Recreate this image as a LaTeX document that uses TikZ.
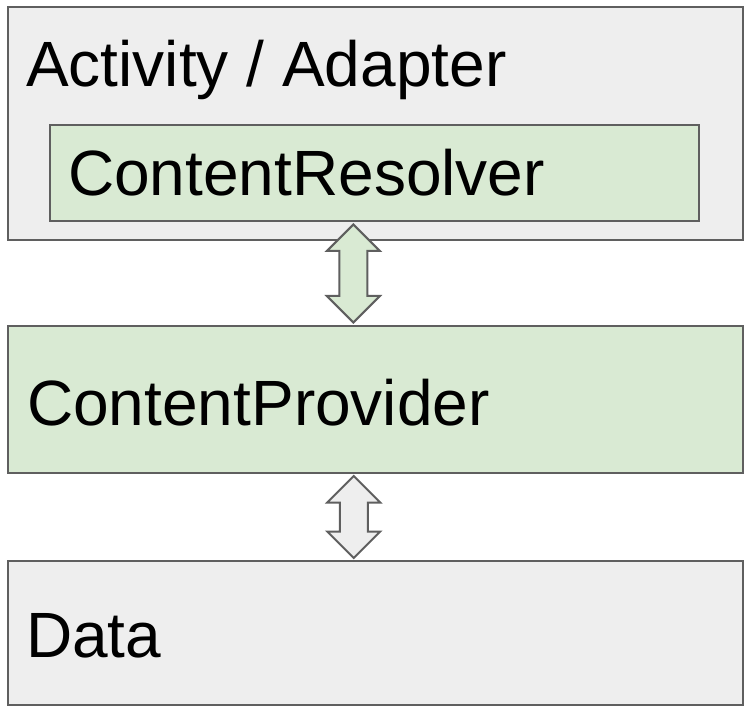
\documentclass[tikz,border=0pt]{standalone}
\usepackage{fontspec}
\setmainfont{Liberation Sans}
\usepackage{tikz}
\usetikzlibrary{shapes.arrows}
\usepackage{xcolor}
\definecolor{layergray}{HTML}{EEEEEE}
\definecolor{layergreen}{HTML}{D9EAD3}
\definecolor{edgegray}{HTML}{5F5F5F}
\tikzstyle{layerbox}=[draw=edgegray, line width=2pt, rectangle, anchor=north west, inner sep=0pt, outer sep=0pt]
\tikzstyle{layertext}=[anchor=base west, inner sep=0pt, font=\fontsize{64}{72}\selectfont]
\tikzstyle{linkarrow}=[draw=edgegray, line width=2pt, double arrow, rotate=90, inner sep=13pt, double arrow head extend=12.5pt, minimum width=51pt]

\begin{document}
\begin{tikzpicture}[x=1pt,y=-1pt]%

	\useasboundingbox (0,0) rectangle (744,708);

	\begin{scope}
		\draw  (7.5,7.5)   node (Box_Activity) [layerbox, fill=layergray,  minimum width=735.5pt, minimum height=232.5pt]  {};
		\draw  (50,125)    node (Box_Resolver) [layerbox, fill=layergreen, minimum width=649pt,   minimum height=96pt]     {};
		\draw  (7.5,326)   node (Box_Provider) [layerbox, fill=layergreen, minimum width=735.5pt, minimum height=147pt]    {};
		\draw  (7.5,561)   node (Box_Data)     [layerbox, fill=layergray,  minimum width=735.5pt, minimum height=144pt]    {};

		\draw  (26,87)     node (Text_Activity) [layertext]  {Activity / Adapter};
		\draw  (68,196)    node (Text_Resolver) [layertext]  {ContentResolver};
		\draw  (27,425)    node (Text_Provider) [layertext]  {ContentProvider};
		\draw  (26,657)    node (Text_Data)     [layertext]  {Data};

		\path ([xshift=-21.5pt]Box_Resolver.south) -- ([xshift=-21.5pt]Box_Provider.north)
			node (Link_Upper) [midway, linkarrow, fill=layergreen, minimum height=98pt] {};
		\path ([xshift=-21.5pt]Box_Provider.south) -- ([xshift=-21.5pt]Box_Data.north)
			node (Link_Lower) [midway, linkarrow, fill=layergray, minimum height=82pt] {};
	\end{scope}

\end{tikzpicture}
\end{document}
